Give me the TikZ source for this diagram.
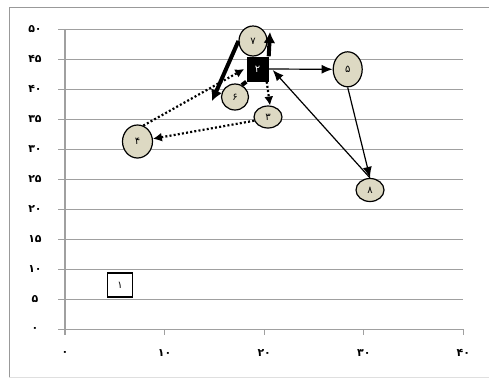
\documentclass[tikz,border=0pt]{standalone}
\usepackage{fontspec}
\newfontfamily\fa{DejaVu Sans}
\usetikzlibrary{shapes.geometric,arrows.meta,calc}
\definecolor{tan}{RGB}{221,217,195}
\definecolor{grid}{RGB}{160,160,160}
\tikzset{
  ell/.style={ellipse,draw=black,line width=1.2bp,fill=tan,inner sep=0pt,font=\fa\fontsize{10}{10}\selectfont},
  gridline/.style={draw=grid,line width=1.3bp},
  thin arrow/.style={draw=black,line width=1.2bp,-{Latex[length=11bp,width=9bp]}},
  thick arrow/.style={draw=black,line width=4bp,-{Latex[length=11bp,width=12bp]}},
  thick line/.style={draw=black,line width=4bp},
  dot arrow/.style={draw=black,line width=2.2bp,dash pattern=on 2bp off 2.2bp,-{Latex[length=9bp,width=9bp]}},
  lbl/.style={font=\fa\bfseries\fontsize{11}{11}\selectfont,inner sep=0pt}
}
\begin{document}
\begin{tikzpicture}[x=1bp,y=-1bp]
\useasboundingbox (0,0) rectangle (489,378);
% frame
\draw[draw=gray!80,line width=1bp] (489,7) -- (9,7) -- (9,377);
\draw[draw=gray!25,line width=1bp] (9,377) -- (489,377);
% gridlines
\foreach \v/\t in {0/۰,5/۵,10/۱۰,15/۱۵,20/۲۰,25/۲۵,30/۳۰,35/۳۵,40/۴۰,45/۴۵,50/۵۰}{
  \draw[gridline] (58,{329.3-6*\v}) -- (463.3,{329.3-6*\v});
  \node[lbl] (y\v) at (35,{329.3-6*\v}) {\t};
}
% axes
\draw[gridline] (65,29.3) -- (65,335);
\foreach \v/\t in {0/۰,10/۱۰,20/۲۰,30/۳۰,40/۴۰}{
  \draw[gridline] ({65+9.96*\v},329.3) -- ({65+9.96*\v},335);
  \node[lbl] (x\v) at ({65+9.96*\v},353) {\t};
}
% nodes
\node[draw=black,line width=1.2bp,fill=white,minimum width=25bp,minimum height=24bp,inner sep=0pt,font=\fa\fontsize{10}{10}\selectfont] (n1) at (120,285) {۱};
\node[ell,minimum width=28bp,minimum height=30bp] (n7) at (253,41) {۷};
\node[ell,minimum width=27bp,minimum height=26bp] (n6) at (235,97) {۶};
\node[ell,minimum width=28bp,minimum height=22bp] (n3) at (268,117) {۳};
\node[ell,minimum width=30bp,minimum height=33bp] (n4) at (137.5,141.5) {۴};
\node[ell,minimum width=29bp,minimum height=35bp] (n5) at (347.7,69.3) {۵};
\node[ell,minimum width=28bp,minimum height=23bp] (n8) at (370,190) {۸};
\node[fill=black,minimum width=22bp,minimum height=25bp,inner sep=0pt,text=white,font=\fa\fontsize{10}{10}\selectfont] (n2) at (257.5,69) {۲};
\coordinate (c1) at (212,101);
\coordinate (c2) at (270,32);
% edges
\draw[thick arrow] (n7.west) -- (c1);
\draw[thick line] (n6.60) -- (n2.south west);
\draw[thick arrow] (n2.north east) -- (c2);
\draw[dot arrow] (n4.70) -- ($(n2.west)+(-2,0)$);
\draw[dot arrow] ($(n2.south east)+(-2,0)$) -- (n3.80);
\draw[dot arrow] (n3.195) -- (n4.10);
\draw[thin arrow] (n2.east) -- (n5.west);
\draw[thin arrow] (n8.north) -- ($(n2.east)+(4,1)$);
\draw[thin arrow] (n5.south) -- (n8.north);
\end{tikzpicture}
\end{document}
